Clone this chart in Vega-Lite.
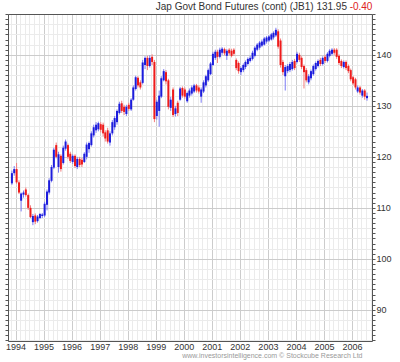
{
"$schema": "https://vega.github.io/schema/vega-lite/v6.json",
"width": 364, "height": 327,
"autosize": {"type": "none"},
"padding": {"left": 8, "top": 14, "right": 28, "bottom": 21},
"background": "white",
"config": {"font": "Liberation Sans", "view": {"stroke": null}},
"data": {"values": [
{"t":"1993-11-15","o":114.8,"h":117.3,"l":114.5,"c":116.8},
{"t":"1993-12-15","o":116.8,"h":118.2,"l":116.3,"c":117.6},
{"t":"1994-01-15","o":117.6,"h":118.8,"l":114.7,"c":115.0},
{"t":"1994-02-15","o":115.0,"h":115.4,"l":112.7,"c":113.0},
{"t":"1994-03-15","o":111.4,"h":113.0,"l":109.3,"c":112.8},
{"t":"1994-04-15","o":112.6,"h":113.4,"l":112.0,"c":113.0},
{"t":"1994-05-15","o":113.6,"h":114.0,"l":112.2,"c":112.5},
{"t":"1994-06-15","o":112.5,"h":112.8,"l":109.6,"c":110.0},
{"t":"1994-07-15","o":110.0,"h":110.5,"l":108.0,"c":108.2},
{"t":"1994-08-15","o":107.2,"h":108.8,"l":106.6,"c":108.4},
{"t":"1994-09-15","o":108.5,"h":108.9,"l":106.8,"c":107.3},
{"t":"1994-10-15","o":107.4,"h":108.6,"l":107.1,"c":108.3},
{"t":"1994-11-15","o":108.0,"h":109.0,"l":107.8,"c":108.8},
{"t":"1994-12-15","o":108.4,"h":109.0,"l":108.0,"c":108.7},
{"t":"1995-01-15","o":108.5,"h":111.2,"l":108.2,"c":110.8},
{"t":"1995-02-15","o":110.6,"h":113.6,"l":109.5,"c":113.2},
{"t":"1995-03-15","o":113.0,"h":115.8,"l":112.6,"c":115.4},
{"t":"1995-04-15","o":115.3,"h":118.4,"l":115.0,"c":118.0},
{"t":"1995-05-15","o":117.9,"h":121.8,"l":117.6,"c":121.4},
{"t":"1995-06-15","o":122.3,"h":122.8,"l":119.7,"c":120.0},
{"t":"1995-07-15","o":118.0,"h":121.0,"l":116.9,"c":120.5},
{"t":"1995-08-15","o":120.2,"h":120.5,"l":117.1,"c":117.6},
{"t":"1995-09-15","o":118.8,"h":122.2,"l":118.5,"c":121.8},
{"t":"1995-10-15","o":121.6,"h":123.4,"l":121.2,"c":123.0},
{"t":"1995-11-15","o":122.3,"h":122.6,"l":119.6,"c":120.0},
{"t":"1995-12-15","o":120.6,"h":121.0,"l":118.8,"c":119.2},
{"t":"1996-01-15","o":119.0,"h":120.5,"l":118.6,"c":120.2},
{"t":"1996-02-15","o":120.2,"h":120.5,"l":117.8,"c":118.2},
{"t":"1996-03-15","o":118.0,"h":120.0,"l":117.6,"c":119.6},
{"t":"1996-04-15","o":119.6,"h":120.0,"l":118.0,"c":118.4},
{"t":"1996-05-15","o":119.4,"h":119.8,"l":118.0,"c":118.5},
{"t":"1996-06-15","o":119.0,"h":120.9,"l":118.8,"c":120.6},
{"t":"1996-07-15","o":120.0,"h":122.8,"l":119.5,"c":122.4},
{"t":"1996-08-15","o":121.5,"h":123.0,"l":120.8,"c":122.7},
{"t":"1996-09-15","o":122.3,"h":125.0,"l":122.0,"c":124.6},
{"t":"1996-10-15","o":124.2,"h":126.3,"l":123.8,"c":125.8},
{"t":"1996-11-15","o":125.2,"h":126.8,"l":124.7,"c":126.3},
{"t":"1996-12-15","o":125.4,"h":126.9,"l":125.0,"c":126.6},
{"t":"1997-01-15","o":126.4,"h":126.8,"l":124.8,"c":125.3},
{"t":"1997-02-15","o":126.3,"h":126.7,"l":124.0,"c":124.6},
{"t":"1997-03-15","o":124.8,"h":125.2,"l":123.0,"c":123.6},
{"t":"1997-04-15","o":125.2,"h":125.7,"l":122.6,"c":123.0},
{"t":"1997-05-15","o":122.8,"h":125.0,"l":122.2,"c":124.6},
{"t":"1997-06-15","o":124.6,"h":127.2,"l":124.2,"c":126.8},
{"t":"1997-07-15","o":125.8,"h":128.0,"l":125.3,"c":127.6},
{"t":"1997-08-15","o":126.8,"h":129.3,"l":126.3,"c":129.0},
{"t":"1997-09-15","o":128.6,"h":130.8,"l":128.3,"c":130.4},
{"t":"1997-10-15","o":130.5,"h":131.0,"l":128.6,"c":129.0},
{"t":"1997-11-15","o":129.8,"h":130.2,"l":128.2,"c":128.8},
{"t":"1997-12-15","o":128.4,"h":130.2,"l":128.0,"c":129.8},
{"t":"1998-01-15","o":130.2,"h":130.6,"l":129.0,"c":129.4},
{"t":"1998-02-15","o":129.3,"h":131.5,"l":129.0,"c":131.2},
{"t":"1998-03-15","o":131.2,"h":134.0,"l":131.0,"c":133.6},
{"t":"1998-04-15","o":133.3,"h":135.9,"l":133.0,"c":135.6},
{"t":"1998-05-15","o":135.5,"h":135.8,"l":133.6,"c":134.0},
{"t":"1998-06-15","o":134.6,"h":135.0,"l":133.2,"c":133.6},
{"t":"1998-07-15","o":134.5,"h":139.0,"l":134.2,"c":138.5},
{"t":"1998-08-15","o":138.0,"h":139.7,"l":137.2,"c":139.4},
{"t":"1998-09-15","o":139.4,"h":139.8,"l":137.0,"c":137.8},
{"t":"1998-10-15","o":137.8,"h":139.9,"l":137.5,"c":139.4},
{"t":"1998-11-15","o":139.6,"h":140.1,"l":138.0,"c":138.6},
{"t":"1998-12-15","o":138.6,"h":139.0,"l":126.8,"c":127.4},
{"t":"1999-01-15","o":128.0,"h":131.2,"l":127.3,"c":130.8},
{"t":"1999-02-15","o":129.0,"h":133.0,"l":125.9,"c":132.0},
{"t":"1999-03-15","o":131.8,"h":135.8,"l":131.5,"c":135.4},
{"t":"1999-04-15","o":135.0,"h":137.2,"l":134.8,"c":136.8},
{"t":"1999-05-15","o":136.6,"h":137.0,"l":134.2,"c":134.8},
{"t":"1999-06-15","o":135.0,"h":135.3,"l":129.3,"c":129.8},
{"t":"1999-07-15","o":129.6,"h":131.8,"l":129.0,"c":131.2},
{"t":"1999-08-15","o":133.2,"h":133.6,"l":127.8,"c":128.2},
{"t":"1999-09-15","o":128.4,"h":130.0,"l":127.9,"c":129.5},
{"t":"1999-10-15","o":130.6,"h":131.0,"l":128.0,"c":128.6},
{"t":"1999-11-15","o":131.2,"h":133.7,"l":131.0,"c":133.4},
{"t":"1999-12-15","o":133.5,"h":133.8,"l":131.6,"c":132.0},
{"t":"2000-01-15","o":133.2,"h":133.6,"l":131.4,"c":131.8},
{"t":"2000-02-15","o":130.9,"h":132.8,"l":130.6,"c":132.5},
{"t":"2000-03-15","o":132.0,"h":133.4,"l":131.6,"c":133.0},
{"t":"2000-04-15","o":132.4,"h":134.0,"l":132.0,"c":133.6},
{"t":"2000-05-15","o":132.8,"h":134.3,"l":132.5,"c":134.0},
{"t":"2000-06-15","o":134.0,"h":134.3,"l":132.6,"c":133.0},
{"t":"2000-07-15","o":133.6,"h":134.0,"l":132.4,"c":132.8},
{"t":"2000-08-15","o":131.8,"h":133.6,"l":130.6,"c":133.2},
{"t":"2000-09-15","o":132.8,"h":135.0,"l":132.5,"c":134.6},
{"t":"2000-10-15","o":134.0,"h":136.1,"l":133.6,"c":135.8},
{"t":"2000-11-15","o":135.0,"h":137.3,"l":134.7,"c":137.0},
{"t":"2000-12-15","o":136.2,"h":138.6,"l":136.0,"c":138.3},
{"t":"2001-01-15","o":138.0,"h":140.6,"l":137.8,"c":140.2},
{"t":"2001-02-15","o":139.4,"h":141.0,"l":139.0,"c":140.6},
{"t":"2001-03-15","o":140.6,"h":141.0,"l":138.4,"c":139.6},
{"t":"2001-04-15","o":139.6,"h":141.4,"l":139.3,"c":141.0},
{"t":"2001-05-15","o":140.4,"h":141.5,"l":140.0,"c":141.2},
{"t":"2001-06-15","o":141.1,"h":141.4,"l":139.9,"c":140.3},
{"t":"2001-07-15","o":139.8,"h":141.1,"l":139.0,"c":140.8},
{"t":"2001-08-15","o":141.0,"h":141.3,"l":139.9,"c":140.3},
{"t":"2001-09-15","o":140.8,"h":141.2,"l":139.5,"c":139.8},
{"t":"2001-10-15","o":141.0,"h":141.3,"l":139.8,"c":140.2},
{"t":"2001-11-15","o":139.0,"h":139.3,"l":137.0,"c":137.4},
{"t":"2001-12-15","o":138.4,"h":138.7,"l":136.3,"c":136.8},
{"t":"2002-01-15","o":136.6,"h":137.7,"l":136.0,"c":137.4},
{"t":"2002-02-15","o":137.0,"h":138.3,"l":136.6,"c":138.0},
{"t":"2002-03-15","o":137.6,"h":138.9,"l":137.2,"c":138.6},
{"t":"2002-04-15","o":138.2,"h":139.5,"l":137.9,"c":139.2},
{"t":"2002-05-15","o":138.8,"h":139.8,"l":138.5,"c":139.4},
{"t":"2002-06-15","o":139.2,"h":140.8,"l":138.9,"c":140.4},
{"t":"2002-07-15","o":139.8,"h":141.7,"l":139.5,"c":141.4},
{"t":"2002-08-15","o":141.0,"h":142.3,"l":140.7,"c":142.0},
{"t":"2002-09-15","o":141.4,"h":142.7,"l":141.0,"c":142.4},
{"t":"2002-10-15","o":141.8,"h":143.0,"l":141.5,"c":142.6},
{"t":"2002-11-15","o":142.0,"h":143.5,"l":141.8,"c":143.2},
{"t":"2002-12-15","o":142.6,"h":143.7,"l":142.2,"c":143.4},
{"t":"2003-01-15","o":142.8,"h":143.9,"l":142.5,"c":143.6},
{"t":"2003-02-15","o":143.0,"h":144.3,"l":142.8,"c":144.0},
{"t":"2003-03-15","o":143.4,"h":144.6,"l":143.0,"c":144.3},
{"t":"2003-04-15","o":143.8,"h":145.3,"l":143.5,"c":144.9},
{"t":"2003-05-15","o":144.6,"h":145.0,"l":141.2,"c":141.6},
{"t":"2003-06-15","o":142.8,"h":143.2,"l":137.5,"c":138.0},
{"t":"2003-07-15","o":138.6,"h":139.0,"l":136.0,"c":136.6},
{"t":"2003-08-15","o":135.8,"h":138.0,"l":133.0,"c":137.6},
{"t":"2003-09-15","o":136.8,"h":138.2,"l":136.4,"c":137.8},
{"t":"2003-10-15","o":137.0,"h":138.6,"l":136.6,"c":138.2},
{"t":"2003-11-15","o":137.2,"h":139.0,"l":136.9,"c":138.6},
{"t":"2003-12-15","o":138.8,"h":139.2,"l":137.0,"c":137.4},
{"t":"2004-01-15","o":138.6,"h":140.6,"l":138.3,"c":140.2},
{"t":"2004-02-15","o":140.0,"h":140.4,"l":138.6,"c":139.0},
{"t":"2004-03-15","o":139.4,"h":139.7,"l":137.2,"c":137.6},
{"t":"2004-04-15","o":137.8,"h":138.1,"l":133.4,"c":136.6},
{"t":"2004-05-15","o":137.0,"h":137.4,"l":134.6,"c":135.0},
{"t":"2004-06-15","o":134.6,"h":136.2,"l":134.2,"c":135.8},
{"t":"2004-07-15","o":135.4,"h":137.1,"l":135.0,"c":136.8},
{"t":"2004-08-15","o":136.2,"h":138.1,"l":135.9,"c":137.8},
{"t":"2004-09-15","o":137.2,"h":138.7,"l":136.9,"c":138.4},
{"t":"2004-10-15","o":137.8,"h":139.1,"l":137.5,"c":138.8},
{"t":"2004-11-15","o":139.0,"h":139.4,"l":137.8,"c":138.2},
{"t":"2004-12-15","o":138.2,"h":139.7,"l":137.9,"c":139.4},
{"t":"2005-01-15","o":139.6,"h":140.0,"l":138.4,"c":138.8},
{"t":"2005-02-15","o":138.8,"h":140.5,"l":138.5,"c":140.2},
{"t":"2005-03-15","o":139.8,"h":141.1,"l":139.5,"c":140.8},
{"t":"2005-04-15","o":140.2,"h":141.3,"l":139.9,"c":141.0},
{"t":"2005-05-15","o":141.0,"h":141.3,"l":140.0,"c":140.4},
{"t":"2005-06-15","o":141.0,"h":141.3,"l":139.2,"c":139.6},
{"t":"2005-07-15","o":139.8,"h":140.1,"l":138.0,"c":138.4},
{"t":"2005-08-15","o":138.8,"h":139.1,"l":137.4,"c":137.8},
{"t":"2005-09-15","o":137.6,"h":138.9,"l":137.3,"c":138.6},
{"t":"2005-10-15","o":138.6,"h":138.9,"l":137.0,"c":137.4},
{"t":"2005-11-15","o":137.8,"h":138.1,"l":136.4,"c":136.8},
{"t":"2005-12-15","o":137.0,"h":137.3,"l":134.8,"c":135.2},
{"t":"2006-01-15","o":135.6,"h":135.9,"l":134.0,"c":134.4},
{"t":"2006-02-15","o":135.2,"h":135.5,"l":133.2,"c":133.6},
{"t":"2006-03-15","o":132.8,"h":134.0,"l":132.5,"c":133.6},
{"t":"2006-04-15","o":133.6,"h":133.9,"l":132.2,"c":132.6},
{"t":"2006-05-15","o":132.0,"h":133.3,"l":131.6,"c":133.0},
{"t":"2006-06-15","o":133.0,"h":133.3,"l":131.2,"c":131.8},
{"t":"2006-07-15","o":131.5,"h":132.6,"l":131.0,"c":131.95}
]},
"layer": [
{
"mark": {"type": "rule", "strokeWidth": 1},
"encoding": {
"x": {"field": "t", "type": "temporal",
"scale": {"domain": [{"year":1993,"month":9,"date":25},{"year":2006,"month":9,"date":18}], "padding": 0},
"axis": {"orient": "bottom", "title": null, "labels": false, "ticks": false, "domain": false, "grid": true, "zindex": 0,
"tickCount": {"interval": "month", "step": 2},
"gridColor": {"condition": {"test": "month(datum.value) === 0", "value": "#cccccc"}, "value": "#ebebeb"}, "gridWidth": 1}},
"y": {"field": "l", "type": "quantitative", "scale": {"domain": [83.9, 148], "nice": false, "zero": false, "padding": 0},
"axis": {"orient": "left", "title": null, "labels": false, "ticks": false, "domain": false, "grid": true, "zindex": 0,
"values": [84,86,88,90,92,94,96,98,100,102,104,106,108,110,112,114,116,118,120,122,124,126,128,130,132,134,136,138,140,142,144,146,148],
"gridColor": {"condition": {"test": "datum.value % 10 === 0", "value": "#cccccc"}, "value": "#ebebeb"}, "gridWidth": 1}},
"y2": {"field": "h"},
"color": {"condition": {"test": "datum.o <= datum.c", "value": "#7c7cf4"}, "value": "#f47c7c"}
}
},
{
"mark": {"type": "bar", "width": 2},
"encoding": {
"x": {"field": "t", "type": "temporal",
"axis": {"orient": "bottom", "tickCount": {"interval": "year", "step": 1}, "format": "%Y", "labelFontSize": 9, "labelColor": "#333333",
"labelPadding": 1, "ticks": false, "grid": false, "domain": true, "domainColor": "#555555", "labelFlush": false, "labelOverlap": false, "zindex": 1,
"title": "www.investorsintelligence.com  © Stockcube Research Ltd", "titleFontSize": 7, "titleFontWeight": "normal", "titleColor": "#999999",
"titleAnchor": "end", "titleAlign": "right", "titleX": 354, "titleY": 16, "titleBaseline": "alphabetic"}},
"y": {"field": "o", "type": "quantitative",
"axis": {"orient": "right", "title": null, "grid": false, "domain": true, "domainColor": "#555555", "tickColor": "#555555", "tickSize": 3,
"values": [84,85,86,87,88,89,90,91,92,93,94,95,96,97,98,99,100,101,102,103,104,105,106,107,108,109,110,111,112,113,114,115,116,117,118,119,120,121,122,123,124,125,126,127,128,129,130,131,132,133,134,135,136,137,138,139,140,141,142,143,144,145,146,147,148],
"labelExpr": "datum.value % 10 === 0 ? datum.label : ''", "labelFontSize": 9, "labelColor": "#333333", "labelPadding": 1, "labelOverlap": false, "labelBound": false, "zindex": 1}},
"y2": {"field": "c"},
"color": {"condition": {"test": "datum.o <= datum.c", "value": "#1c1cdc"}, "value": "#ee1c1c"}
}
},
{
"mark": {"type": "rule", "opacity": 0},
"encoding": {
"x": {"field": "t", "type": "temporal",
"axis": {"orient": "top", "values": [{"year":2006,"month":9,"date":17}], "labelExpr": "'-0.40'", "labelColor": "#dd2222", "labelFontSize": 10,
"labelAlign": "right", "labelDx": 1, "labelBaseline": "alphabetic", "labelPadding": 4.5, "ticks": false, "tickSize": 0, "grid": false,
"domain": true, "domainColor": "#555555", "labelFlush": false, "labelOverlap": false, "labelBound": false, "zindex": 1,
"title": "Jap Govt Bond Futures (cont) (JB1) 131.95", "titleColor": "#333333", "titleFontSize": 10, "titleFontWeight": "normal",
"titleAnchor": "end", "titleAlign": "right", "titleX": 338.5, "titleY": -4.5, "titleBaseline": "alphabetic"}},
"y": {"field": "l", "type": "quantitative",
"axis": {"orient": "left", "title": null, "labels": false, "grid": false, "domain": true, "domainColor": "#555555", "tickColor": "#555555", "tickSize": 3, "zindex": 1,
"values": [84,85,86,87,88,89,90,91,92,93,94,95,96,97,98,99,100,101,102,103,104,105,106,107,108,109,110,111,112,113,114,115,116,117,118,119,120,121,122,123,124,125,126,127,128,129,130,131,132,133,134,135,136,137,138,139,140,141,142,143,144,145,146,147,148]}},
"y2": {"field": "h"}
}
}
],
"resolve": {"axis": {"x": "independent", "y": "independent"}}
}
